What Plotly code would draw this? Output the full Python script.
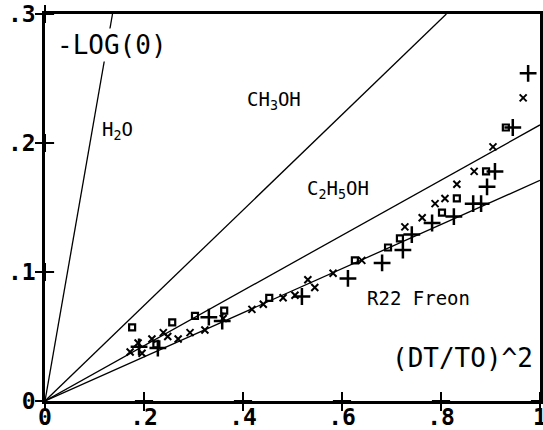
import plotly.graph_objects as go

# ---- data ----
line_names = ["H<sub>2</sub>O", "CH<sub>3</sub>OH", "C<sub>2</sub>H<sub>5</sub>OH", "R22 Freon"]
line_slopes = [2.2, 0.37, 0.214, 0.171]

x_cross_x = [0.172, 0.188, 0.196, 0.216, 0.239, 0.248, 0.269, 0.293, 0.323, 0.360, 0.418, 0.441,
             0.481, 0.505, 0.531, 0.545, 0.582, 0.640, 0.727, 0.762, 0.788, 0.808, 0.832, 0.867,
             0.905, 0.966]
x_cross_y = [0.038, 0.045, 0.037, 0.048, 0.053, 0.050, 0.048, 0.053, 0.055, 0.064, 0.071, 0.075,
             0.080, 0.082, 0.094, 0.088, 0.099, 0.109, 0.135, 0.142, 0.153, 0.157, 0.168, 0.178,
             0.197, 0.235]

plus_x = [0.190, 0.228, 0.331, 0.358, 0.519, 0.612, 0.681, 0.723, 0.741, 0.782, 0.826, 0.865,
          0.881, 0.893, 0.909, 0.945, 0.976]
plus_y = [0.042, 0.041, 0.065, 0.062, 0.081, 0.095, 0.107, 0.117, 0.129, 0.138, 0.143, 0.153,
          0.153, 0.166, 0.178, 0.212, 0.254]

sq_x = [0.176, 0.225, 0.257, 0.303, 0.362, 0.453, 0.626, 0.693, 0.717, 0.802, 0.832, 0.891, 0.931]
sq_y = [0.057, 0.044, 0.061, 0.066, 0.070, 0.080, 0.109, 0.119, 0.126, 0.146, 0.157, 0.178, 0.212]

x_ticks = [0, 0.2, 0.4, 0.6, 0.8, 1.0]
x_ticktext = ["0", ".2", ".4", ".6", ".8", "1"]
y_ticks = [0, 0.1, 0.2, 0.3]
y_ticktext = ["0", ".1", ".2", ".3"]

X_MAX, Y_MAX = 1.0, 0.3

fig = go.Figure()

for name, s in zip(line_names, line_slopes):
    xe = min(X_MAX, Y_MAX / s)
    fig.add_trace(go.Scatter(x=[0, xe], y=[0, s * xe], mode="lines",
                             line=dict(color="black", width=1.3), name=name,
                             hoverinfo="skip"))

fig.add_trace(go.Scatter(x=x_cross_x, y=x_cross_y, mode="markers",
                         marker=dict(symbol="x-thin-open", size=7, color="black",
                                     line=dict(color="black", width=2))))
fig.add_trace(go.Scatter(x=plus_x, y=plus_y, mode="markers",
                         marker=dict(symbol="cross-thin-open", size=12, color="black",
                                     line=dict(color="black", width=2.5))))
fig.add_trace(go.Scatter(x=sq_x, y=sq_y, mode="markers",
                         marker=dict(symbol="square-open", size=6, color="black",
                                     line=dict(color="black", width=2.2))))

# cross-shaped tick marks straddling the axes, placed at the tick values
fig.add_trace(go.Scatter(x=x_ticks[1:], y=[0] * (len(x_ticks) - 1), mode="markers",
                         cliponaxis=False, hoverinfo="skip",
                         marker=dict(symbol="cross-thin-open", size=13, color="black",
                                     line=dict(color="black", width=2))))
fig.add_trace(go.Scatter(x=[0] * (len(y_ticks) - 1), y=y_ticks[1:], mode="markers",
                         cliponaxis=False, hoverinfo="skip",
                         marker=dict(symbol="cross-thin-open", size=13, color="black",
                                     line=dict(color="black", width=2))))

mono = "DejaVu Sans Mono"
tickfont = dict(family=mono, size=23, color="black", weight="bold")

common = dict(showgrid=False, zeroline=False, automargin=False,
              ticks="outside", ticklen=7, tickwidth=2, tickcolor="#000000",
              showline=True, linecolor="black", linewidth=2.5, mirror=True,
              tickfont=tickfont, ticklabeloverflow="allow")
fig.update_layout(
    template="none",
    width=543, height=430,
    margin=dict(l=45, r=3, t=14, b=29),
    paper_bgcolor="white", plot_bgcolor="white",
    showlegend=False,
    xaxis=dict(range=[0, X_MAX], tickvals=x_ticks, ticktext=x_ticktext,
               ticklabelstandoff=-13, **common),
    yaxis=dict(range=[0, Y_MAX], tickvals=y_ticks, ticktext=y_ticktext,
               ticklabelstandoff=-5, **common),
)

labfont = dict(family=mono, size=19, color="black")
bigfont = dict(family=mono, size=26, color="black")
fig.add_annotation(x=0.02, y=0.276, text="-LOG(0)", showarrow=False, xanchor="left",
                   font=bigfont, bgcolor="white")
fig.add_annotation(x=0.111, y=0.21, text="H<sub>2</sub>O", showarrow=False, xanchor="left", font=labfont)
fig.add_annotation(x=0.404, y=0.233, text="CH<sub>3</sub>OH", showarrow=False, xanchor="left", font=labfont)
fig.add_annotation(x=0.525, y=0.164, text="C<sub>2</sub>H<sub>5</sub>OH", showarrow=False, xanchor="left", font=labfont)
fig.add_annotation(x=0.646, y=0.080, text="R22 Freon", showarrow=False, xanchor="left", font=labfont)
fig.add_annotation(x=0.99, y=0.033, text="(DT/TO)^2", showarrow=False, xanchor="right", font=bigfont)

fig.write_html("out.html")
